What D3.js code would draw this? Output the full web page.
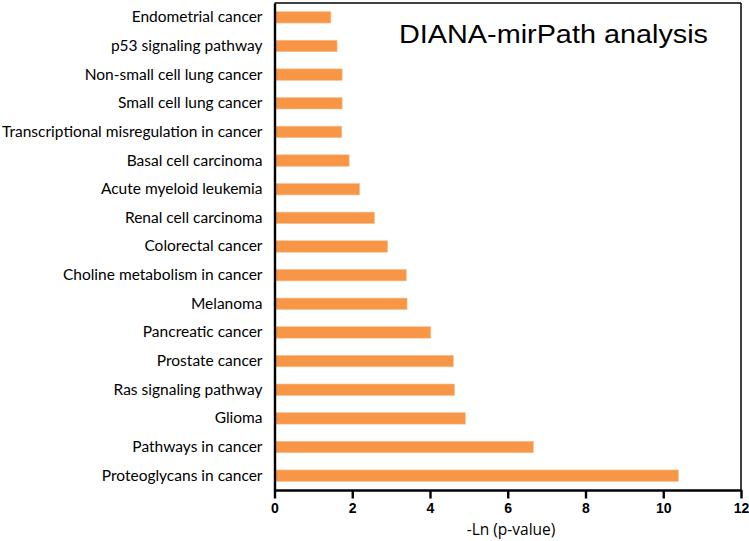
<!DOCTYPE html>
<html><head><meta charset="utf-8">
<script src="https://cdn.jsdelivr.net/npm/d3@7"></script>
<style>body{margin:0;background:#fff}svg{display:block}</style>
</head><body>
<svg id="c" width="749" height="541"></svg>
<script>
const categories = ["Endometrial cancer","p53 signaling pathway","Non-small cell lung cancer","Small cell lung cancer","Transcriptional misregulation in cancer","Basal cell carcinoma","Acute myeloid leukemia","Renal cell carcinoma","Colorectal cancer","Choline metabolism in cancer","Melanoma","Pancreatic cancer","Prostate cancer","Ras signaling pathway","Glioma","Pathways in cancer","Proteoglycans in cancer"];
const values = [1.45,1.61,1.74,1.74,1.73,1.92,2.19,2.57,2.91,3.39,3.41,4.02,4.60,4.63,4.91,6.66,10.39];
const xTicks = [0,2,4,6,8,10,12];
const title = "DIANA-mirPath analysis";
const xTitle = "-Ln (p-value)";

const svg = d3.select("#c");
const L = 274.5, R = 741, T = 3, B = 490;
const x = d3.scaleLinear().domain([0,12]).range([L,R]);
const y = d3.scaleBand().domain(categories).range([T,B]).paddingInner(0.6).paddingOuter(0.3);

svg.append("g").selectAll("rect").data(categories).join("rect")
  .attr("x", x(0)).attr("y", d=>y(d))
  .attr("width", (d,i)=>x(values[i])-x(0)).attr("height", y.bandwidth())
  .attr("fill","#f79646").attr("stroke","#fbc08c").attr("stroke-width",0.6);

// frame
svg.append("line").attr("x1",L).attr("x2",R).attr("y1",T).attr("y2",T).attr("stroke","#000").attr("stroke-width",1.5);
svg.append("line").attr("x1",R).attr("x2",R).attr("y1",T).attr("y2",B).attr("stroke","#000").attr("stroke-width",1.5);

const xa = svg.append("g").attr("transform",`translate(0,${B})`)
  .call(d3.axisBottom(x).tickValues(xTicks).tickSize(8.5).tickSizeOuter(0).tickPadding(5));
xa.select(".domain").attr("stroke-width",2.4);
xa.selectAll(".tick line").attr("stroke-width",2.4);
xa.selectAll("text").attr("font-family","'Liberation Sans',Arial,sans-serif").attr("font-weight","bold").attr("font-size",14).attr("fill","#000");

const ya = svg.append("g").attr("transform",`translate(${L},0)`)
  .call(d3.axisLeft(y).tickSize(0).tickPadding(12));
ya.select(".domain").attr("stroke-width",2.4);
ya.selectAll("text").attr("font-family","Lato,sans-serif").attr("font-size",15.5).attr("fill","#000");

svg.append("text").attr("x",511).attr("y",535).attr("text-anchor","middle")
  .attr("font-family","'Open Sans',sans-serif").attr("font-size",15.5).text(xTitle);
svg.append("text").attr("x",399).attr("y",43).attr("textLength",309).attr("lengthAdjust","spacingAndGlyphs")
  .attr("font-family","'Liberation Sans',Arial,sans-serif").attr("font-size",26).text(title);
</script>
</body></html>
